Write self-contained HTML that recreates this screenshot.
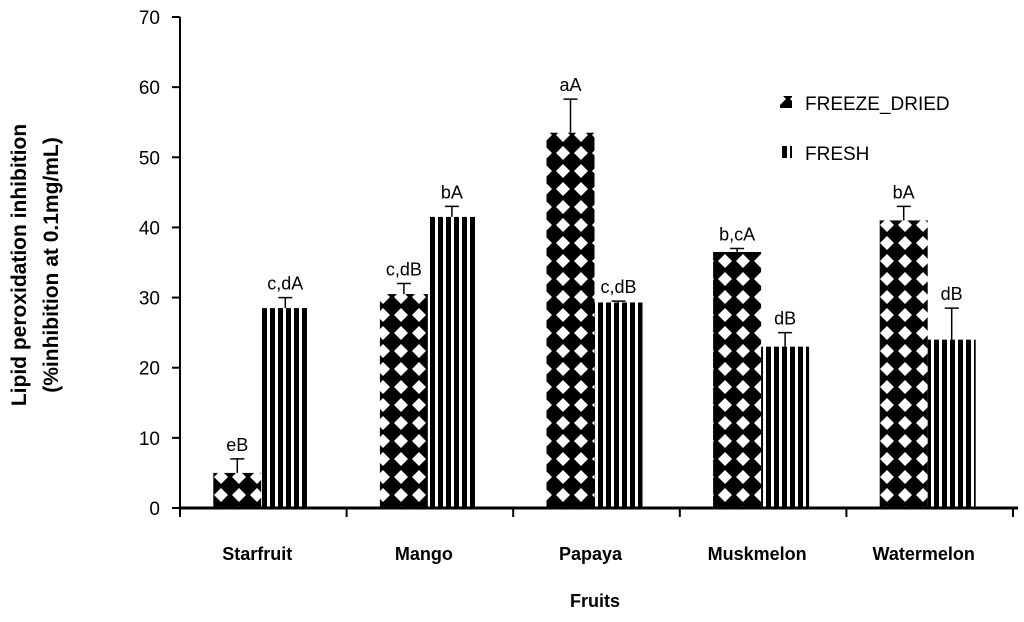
<!DOCTYPE html>
<html><head><meta charset="utf-8"><style>
body{margin:0;background:#fff}
svg text{font-family:"Liberation Sans",sans-serif}
</style></head><body>
<svg id="chart" width="1024" height="617" xmlns="http://www.w3.org/2000/svg">
<defs>
<pattern id="pd" width="18" height="18" patternUnits="userSpaceOnUse" x="212" y="0">
<rect width="18" height="18" fill="#000"/>
<polygon points="9,2 16,9 9,16 2,9" fill="#fff"/>
</pattern>
<pattern id="pf" width="8" height="10" patternUnits="userSpaceOnUse" x="262">
<rect width="8" height="10" fill="#fff"/><rect width="5" height="10" fill="#000"/>
</pattern>
</defs>
<g id="plot"></g>
<text transform="translate(26,265) rotate(-90)" text-anchor="middle" font-size="21" font-weight="bold">Lipid peroxidation inhibition</text>
<text transform="translate(58,265) rotate(-90)" text-anchor="middle" font-size="21" font-weight="bold">(%inhibition at 0.1mg/mL)</text>
<text x="595" y="607" text-anchor="middle" font-size="18" font-weight="bold">Fruits</text>
<g>
<rect x="780" y="96" width="12" height="12" fill="url(#pd)"/>
<text x="805" y="110" font-size="19">FREEZE_DRIED</text>
<rect x="780" y="146" width="12" height="12" fill="url(#pf)"/>
<text x="805" y="160" font-size="19">FRESH</text>
</g>
</svg>
<script>
const categories=["Starfruit","Mango","Papaya","Muskmelon","Watermelon"];
const freezeDried=[5,30.5,53.5,36.5,41];
const freezeErr=[2,1.5,4.8,0.5,2];
const fresh=[28.5,41.5,29.3,23,24];
const freshErr=[1.5,1.5,0.2,2,4.5];
const freezeLabels=["eB","c,dB","aA","b,cA","bA"];
const freshLabels=["c,dA","bA","c,dB","dB","dB"];
const yTicks=[0,10,20,30,40,50,60,70];
const NS="http://www.w3.org/2000/svg";
const x0=180,x1=1013,y0=508,y70=17;
const y=v=>y0-(v/70)*(y0-y70);
const band=(x1-x0)/categories.length;
const cx=i=>x0+band*(i+0.5);
const g=document.getElementById('plot');
function el(t,a){const e=document.createElementNS(NS,t);for(const k in a)e.setAttribute(k,a[k]);g.appendChild(e);return e;}
const bw=48;
categories.forEach((c,i)=>{
 const c0=cx(i)-2;
 [[freezeDried,freezeErr,freezeLabels,'url(#pd)',-bw,'freeze-dried'],[fresh,freshErr,freshLabels,'url(#pf)',0,'fresh']].forEach(s=>{
  const v=s[0][i],e=s[1][i],bx=c0+s[4];
  const r=el('rect',{x:bx,y:y(v),width:bw,height:y0-y(v),fill:s[3]});
  
  
  const m=bx+bw/2;
  const l=el('path',{d:`M${m} ${y(v)}V${y(v+e)}M${m-7} ${y(v+e)}H${m+7}`,stroke:'#000','stroke-width':1.5,fill:'none'});
  
  
  const t=el('text',{x:m,y:y(v+e)-8,'text-anchor':'middle','font-size':18});
  t.textContent=s[2][i];
  
  
 });
 const t=el('text',{x:c0-4,y:560,'text-anchor':'middle','font-size':18,'font-weight':'bold'});
 t.textContent=c;
 
 
});
yTicks.forEach(v=>{
 const tk=el('line',{x1:172,x2:x0,y1:y(v),y2:y(v),stroke:'#000','stroke-width':2});
 
 
 const t=el('text',{x:160,y:y(v)+7,'text-anchor':'end','font-size':19});
 t.textContent=v;
 
 
});
for(let i=0;i<=categories.length;i++){
 const tk=el('line',{x1:x0+band*i,x2:x0+band*i,y1:y0,y2:y0+9,stroke:'#000','stroke-width':2});
 
 
}
const ya=el('line',{x1:x0,x2:x0,y1:y70,y2:y0,stroke:'#000','stroke-width':2});


const xa=el('line',{x1:x0,x2:1018,y1:y0,y2:y0,stroke:'#000','stroke-width':3});


</script>
</body></html>
